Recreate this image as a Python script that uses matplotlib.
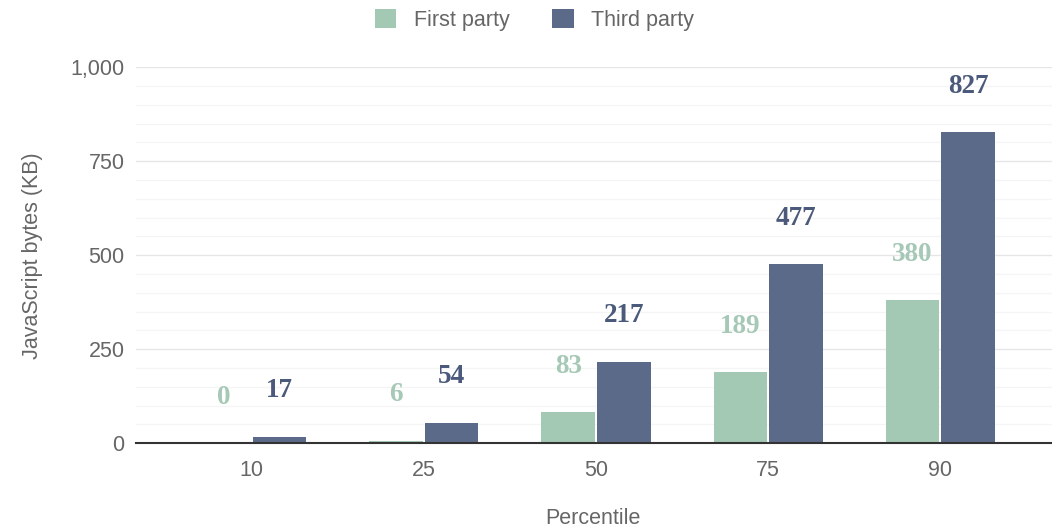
import matplotlib.pyplot as plt
import numpy as np
from matplotlib.ticker import MultipleLocator, FuncFormatter

percentiles = ["10", "25", "50", "75", "90"]
first_party = [0, 6, 83, 189, 380]
third_party = [17, 54, 217, 477, 827]

green = "#a3c9b4"
blue = "#5b6a88"
green_txt = "#a6c8b7"
blue_txt = "#4b5a7a"

plt.rcParams["font.family"] = ["Liberation Sans", "DejaVu Sans"]

fig = plt.figure(figsize=(10.52, 5.30), dpi=100)
ax = fig.add_axes([0.129, 0.164, 0.871, 0.709])

x = np.arange(len(percentiles))
w = 0.31
b1 = ax.bar(x - 0.162, first_party, w, color=green, label="First party", zorder=3)
b2 = ax.bar(x + 0.162, third_party, w, color=blue, label="Third party", zorder=3)

for bars, vals, col in [(b1, first_party, green_txt), (b2, third_party, blue_txt)]:
    for rect, v in zip(bars, vals):
        ax.annotate(str(v), (rect.get_x() + rect.get_width() / 2, v),
                    xytext=(0, 33), textcoords="offset points",
                    ha="center", va="center", color=col,
                    fontsize=19.5, fontweight="bold", family="Liberation Serif")

ax.set_ylim(0, 1000)
ax.set_xlim(-0.675, 4.65)
ax.yaxis.set_major_locator(MultipleLocator(250))
ax.yaxis.set_minor_locator(MultipleLocator(50))
ax.yaxis.set_major_formatter(FuncFormatter(lambda v, p: f"{int(v):,}"))
ax.grid(axis="y", which="major", color="#e6e6e6", lw=1, zorder=0)
ax.grid(axis="y", which="minor", color="#f5f5f5", lw=1, zorder=0)
ax.set_xticks(x)
ax.set_xticklabels(percentiles)
ax.tick_params(axis="both", which="both", length=0, labelsize=15.5, colors="#666666")
ax.tick_params(axis="y", pad=8)
ax.tick_params(axis="x", pad=12)

for s in ["top", "right", "left"]:
    ax.spines[s].set_visible(False)
ax.spines["bottom"].set_color("#333333")
ax.spines["bottom"].set_linewidth(1.5)
ax.spines["bottom"].set_zorder(4)

# x label placed explicitly near the bottom edge, as in the original
fig.text(0.564, 1 - 518 / 530, "Percentile", fontsize=15.5, color="#666666",
         ha="center", va="center")
ax.set_ylabel("JavaScript bytes (KB)", fontsize=15.5, color="#666666", labelpad=20)

fig.legend(loc="center", bbox_to_anchor=(0.508, 0.962), ncol=2, frameon=False,
           fontsize=15.5, labelcolor="#666666", handlelength=1.0, handleheight=1.0,
           columnspacing=2.0, handletextpad=0.8)

fig.savefig("out.png", dpi=100)
